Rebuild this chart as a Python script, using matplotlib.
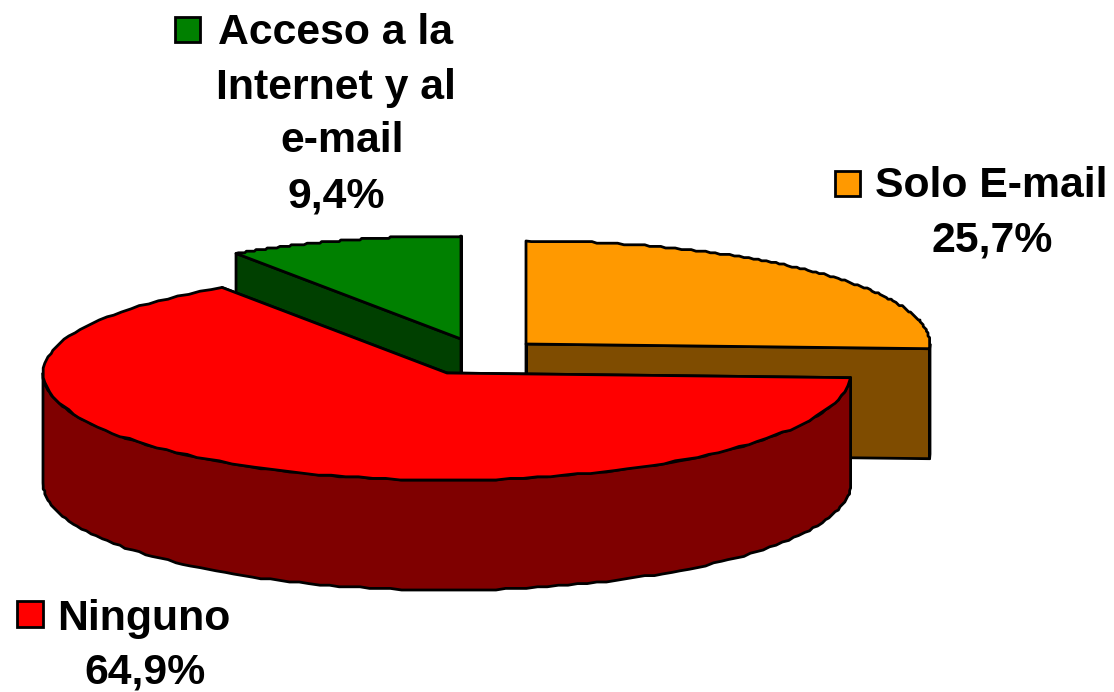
import numpy as np
import matplotlib
matplotlib.use("Agg")
import matplotlib.pyplot as plt
from matplotlib.patches import Polygon, Rectangle

categories = ["Solo E-mail", "Ninguno", "Acceso a la", "Internet y al", "e-mail"]
shares = [25.7, 64.9, 9.4]
labels = ["25,7%", "64,9%", "9,4%"]
top_colors = ["#FF9900", "#FF0000", "#008000"]
side_colors = ["#7F4C00", "#7F0000", "#004000"]

RX, RY_BACK, RY_FRONT, DEPTH = 404, 103, 107, 110
centers = [(526, 344), (447, 373), (461, 339)]
STEP = 1.6

fig = plt.figure(figsize=(11.14, 6.92), dpi=100)
ax = fig.add_axes([0, 0, 1, 1])
ax.set_xlim(0, 1114)
ax.set_ylim(692, 0)
ax.axis("off")


def arc(c, a0, a1, n=120):
    t = np.radians(np.linspace(a0, a1, n))
    ry = np.where(np.sin(t) > 0, RY_BACK, RY_FRONT)
    pts = np.column_stack([c[0] + RX * np.cos(t), c[1] - ry * np.sin(t)])
    if n > 2:  # slightly stepped outline, as on the low-resolution original
        inner = pts[1:-1]
        pts[1:-1] = np.round(inner / STEP) * STEP
    return pts


def wedge(i):
    sweep = shares[i] * 3.6
    if i == 0:
        return 90 - sweep, 90
    if i == 2:
        return 90, 90 + sweep
    return 90 + shares[2] * 3.6, 90 + shares[2] * 3.6 + sweep


def draw(i, z):
    c = centers[i]
    a0, a1 = wedge(i)
    top = np.vstack([[c], arc(c, a0, a1, 120)])
    drop = np.array([0, DEPTH])
    kw = dict(edgecolor="black", linewidth=2.0, joinstyle="round", zorder=z)
    for ang in (a0, a1):
        p = arc(c, ang, ang, 1)[0]
        ax.add_patch(Polygon([c, p, p + drop, np.array(c) + drop],
                             facecolor=side_colors[i], **kw))
    lo, hi = max(a0, 180), min(a1, 360)
    if a0 < 0:
        w = arc(c, a0, 0, 2)
        ax.add_patch(Polygon(np.vstack([w, (w + drop)[::-1]]), facecolor=side_colors[i], **kw))
    if hi > lo:
        w = arc(c, lo, hi)
        ax.add_patch(Polygon(np.vstack([w, (w + drop)[::-1]]), facecolor=side_colors[i], **kw))
    ax.add_patch(Polygon(top, facecolor=top_colors[i], **kw))


draw(0, 2)
draw(2, 3)
draw(1, 4)

font = dict(family="Liberation Sans", fontweight="bold", fontsize=30.8, color="black",
            ha="center", va="center")
box = dict(edgecolor="black", lw=2.0, zorder=5)
ax.add_patch(Rectangle((835, 171), 25, 25, facecolor=top_colors[0], **box))
ax.text(991, 186, categories[0], **font)
ax.text(992, 240, labels[0], **font)
ax.add_patch(Rectangle((17, 601), 26, 26, facecolor=top_colors[1], **box))
ax.text(144, 619, categories[1], **font)
ax.text(145, 672, labels[1], **font)
ax.add_patch(Rectangle((175, 17), 25, 25, facecolor=top_colors[2], **box))
ax.text(336, 33, categories[2], **font)
ax.text(336, 88, categories[3], **font)
ax.text(342, 141, categories[4], **font)
ax.text(336, 196, labels[2], **font)

fig.savefig("out.png", dpi=100, facecolor="white")
